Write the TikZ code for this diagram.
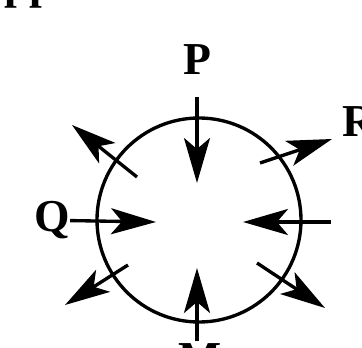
\documentclass[tikz,border=0pt]{standalone}
\usepackage{fontspec}
\setmainfont{Liberation Serif}
\usetikzlibrary{arrows.meta}

\begin{document}
\begin{tikzpicture}[x=0.02cm, y=-0.02cm,
    lbl/.style={font=\fontsize{26}{30}\selectfont\bfseries, inner sep=0pt},
    force/.style={-{Stealth[length=0.9cm, width=0.52cm, inset=0.22cm]}, line width=1.9pt},
    rim/.style={line width=1.9pt}
  ]
    \useasboundingbox (0,0) rectangle (362,348);
    \clip (0,0) rectangle (362,348);

    \node[lbl, anchor=base west] (top) at (4,-1)   {pp};
    \node[lbl, anchor=base]      (P)   at (197,75)  {P};
    \node[lbl, anchor=base]      (Q)   at (52,232)  {Q};
    \node[lbl, anchor=base west] (R)   at (342,137) {R};
    \node[lbl, anchor=base]      (M)   at (200,373) {M};

    \coordinate (c) at (199,220);
    \draw[rim] (c) circle[radius=102];

    % ends of the arrows
    \coordinate (pA) at (197,97);   \coordinate (pB) at (197,183);
    \coordinate (qB) at (156,222);
    \coordinate (eA) at (331,222);  \coordinate (eB) at (243,222);
    \coordinate (mA) at (197,341);  \coordinate (mB) at (197,268);
    \coordinate (nwA) at (137,177); \coordinate (nwB) at (72,125);
    \coordinate (neA) at (260,163); \coordinate (neB) at (332,139);
    \coordinate (swA) at (128,265); \coordinate (swB) at (65,305);
    \coordinate (seA) at (257,263); \coordinate (seB) at (325,308);

    \draw[force] (pA) -- (pB);
    \draw[force] (Q.east) -- (qB);
    \draw[force] (eA) -- (eB);
    \draw[force] (mA) -- (mB);
    \draw[force] (nwA) -- (nwB);
    \draw[force] (neA) -- (neB);
    \draw[force] (swA) -- (swB);
    \draw[force] (seA) -- (seB);
\end{tikzpicture}
\end{document}
